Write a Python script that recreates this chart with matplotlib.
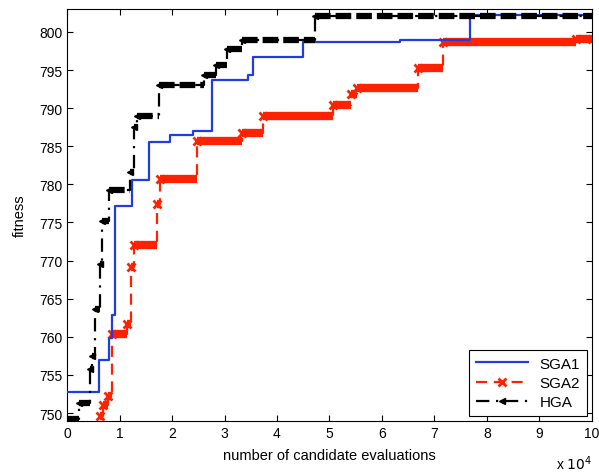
import matplotlib
matplotlib.use("Agg")
import matplotlib.pyplot as plt
import numpy as np

plt.rcParams['font.family'] = ['Liberation Sans', 'DejaVu Sans']

# evaluations in units of 1e4
sga1_x = [0, 0.615, 0.80, 0.85, 0.91, 1.23, 1.57, 1.96, 2.40, 2.76, 3.45, 3.55, 4.50, 6.35, 7.68, 10]
sga1_y = [752.8, 756.9, 759.9, 762.9, 777.2, 780.6, 785.6, 786.5, 787.0, 793.7, 794.4, 796.7, 798.7, 798.9, 802.2, 802.2]

sga2_x = [0.63, 0.69, 0.78, 0.85, 1.15, 1.22, 1.28, 1.71, 1.77, 2.47, 3.33, 3.73, 5.07, 5.42, 5.52, 6.69, 7.17, 9.70, 10]
sga2_y = [749.6, 751.0, 752.3, 760.4, 761.7, 769.2, 772.0, 777.4, 780.7, 785.7, 786.7, 789.0, 790.4, 791.9, 792.7, 795.2, 798.7, 799.1, 799.1]

hga_x = [0, 0.22, 0.44, 0.47, 0.53, 0.62, 0.66, 0.80, 1.20, 1.28, 1.34, 1.75, 2.60, 2.84, 3.04, 3.33, 4.73, 10]
hga_y = [749.2, 751.3, 755.8, 757.5, 763.6, 769.6, 775.2, 779.2, 781.6, 787.5, 789.0, 793.0, 794.4, 795.6, 797.8, 799.0, 802.1, 802.1]

labels = ['SGA1', 'SGA2', 'HGA']
xticks = list(range(0, 11))
yticks = list(range(750, 801, 5))

BLUE = '#1f3de0'
RED = '#ff2200'

fig = plt.figure(figsize=(5.99, 4.77), dpi=100)
ax = fig.add_axes([0.112, 0.116, 0.876, 0.863])

# SGA1
ax.plot(sga1_x, sga1_y, drawstyle='steps-post', color=BLUE, lw=1.6, label=labels[0], zorder=3)

# SGA2
ax.hlines(sga2_y[:-1], sga2_x[:-1], sga2_x[1:], color=RED, lw=6, zorder=2)
ax.plot(sga2_x, sga2_y, drawstyle='steps-post', color=RED, lw=1.6, ls=(0, (5, 3)), zorder=2)
ax.plot(sga2_x, sga2_y, ls='none', marker='x', color=RED, ms=6, mew=2, zorder=2)
ax.plot([], [], color=RED, lw=1.6, ls=(0, (5, 3)), marker='x', ms=6, mew=2, label=labels[1])

# HGA
ax.hlines(hga_y[:-1], hga_x[:-1], hga_x[1:], color='black', lw=4.5, linestyles=[(0, (2.5, 0.8))], zorder=4)
ax.plot(hga_x, hga_y, drawstyle='steps-post', color='black', lw=1.6, ls=(0, (6, 3, 1, 3)), zorder=4)
ax.plot(hga_x, hga_y, ls='none', marker='<', color='black', ms=5, zorder=4)
ax.plot([], [], color='black', lw=1.6, ls=(0, (6, 3, 1, 3)), marker='<', ms=5, label=labels[2])

ax.set_xlim(0, 10)
ax.set_ylim(749, 803)
ax.set_xticks(xticks)
ax.set_yticks(yticks)
ax.tick_params(direction='in', top=True, right=True, labelsize=10, length=4)
ax.set_xlabel('number of candidate evaluations', fontsize=10.5, labelpad=6)
ax.set_ylabel('fitness', fontsize=10.5, labelpad=9)
ax.text(1.0, -0.08, r'x $10^4$', transform=ax.transAxes, ha='right', va='top', fontsize=10)

leg = ax.legend(loc='lower right', fontsize=11, fancybox=False, framealpha=1,
                edgecolor='black', borderaxespad=0.3, handlelength=3.4, labelspacing=0.35,
                borderpad=0.45)
leg.get_frame().set_linewidth(0.8)

fig.savefig('out.png', dpi=100)
